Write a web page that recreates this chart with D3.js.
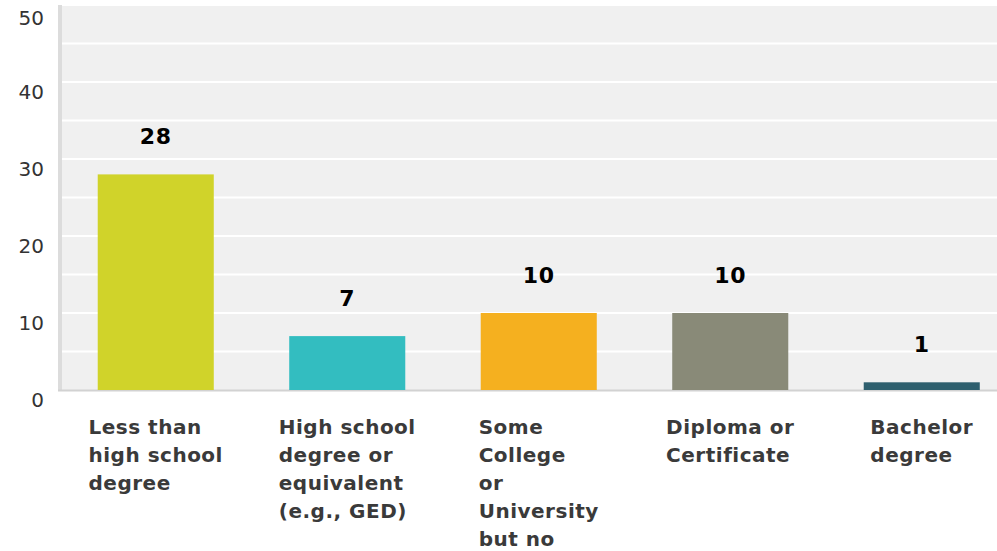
<!DOCTYPE html>
<html>
<head>
<meta charset="utf-8">
<script src="https://d3js.org/d3.v7.min.js"></script>
<style>
  html, body { margin: 0; padding: 0; background: #fff; overflow: hidden; }
  svg { display: block; font-family: "DejaVu Sans", sans-serif; }
  .tick-label { font-size: 20px; fill: #333; }
  .value-label { font-size: 22px; font-weight: bold; fill: #000; letter-spacing: 0.8px; }
  .cat-label { font-size: 20px; font-weight: bold; fill: #3a3a3a; letter-spacing: 0.5px; }
</style>
</head>
<body>
<svg></svg>
<script>
// data
const categories = ["less", "hs", "college", "diploma", "bachelor"]
const values = [28, 7, 10, 10, 1]
const labelLines = [
  ["Less than", "high school", "degree"],
  ["High school", "degree or", "equivalent", "(e.g., GED)"],
  ["Some", "College", "or", "University", "but no", "degree"],
  ["Diploma or", "Certificate"],
  ["Bachelor", "degree"]
]
const colors = ["#d0d32a", "#33bdc0", "#f5b01f", "#898a78", "#2e5f6e"]
const yTicks = [0, 10, 20, 30, 40, 50]
const gridTicks = [5, 10, 15, 20, 25, 30, 35, 40, 45, 50]

let width = 997, height = 551
let plotLeft = 62, plotTop = 5, plotBottom = 390

let svg = d3.select("svg")
  .attr("width", width)
  .attr("height", height)

let x = d3.scaleBand()
  .domain(categories)
  .range([60, 1017.5])
  .paddingInner(0.394)
  .paddingOuter(0.197)

let y = d3.scaleLinear()
  .domain([0, 50])
  .range([plotBottom, plotTop])

// plot background
svg.append("rect")
  .attr("x", plotLeft)
  .attr("y", plotTop)
  .attr("width", width - plotLeft)
  .attr("height", plotBottom - plotTop)
  .attr("fill", "#f0f0f0")

// gridlines
svg.append("g")
  .selectAll("line")
  .data(gridTicks)
  .enter()
  .append("line")
  .attr("x1", plotLeft)
  .attr("x2", width)
  .attr("y1", d => y(d))
  .attr("y2", d => y(d))
  .attr("stroke", "#fff")
  .attr("stroke-width", 2)

// left axis bar
svg.append("rect")
  .attr("x", 58)
  .attr("y", plotTop)
  .attr("width", 4)
  .attr("height", plotBottom - plotTop + 1)
  .attr("fill", "#dcdcdc")

// bottom axis line
svg.append("line")
  .attr("x1", 58)
  .attr("x2", width)
  .attr("y1", plotBottom + 0.5)
  .attr("y2", plotBottom + 0.5)
  .attr("stroke", "#d2d2d2")
  .attr("stroke-width", 2)

// y tick labels
svg.append("g")
  .selectAll("text")
  .data(yTicks)
  .enter()
  .append("text")
  .attr("class", "tick-label")
  .attr("x", 44)
  .attr("y", d => Math.max(y(d) + 17, 25))
  .attr("text-anchor", "end")
  .text(d => d)

// bars
svg.append("g")
  .selectAll("rect")
  .data(values)
  .enter()
  .append("rect")
  .attr("x", (d, i) => x(categories[i]))
  .attr("y", d => y(d))
  .attr("width", x.bandwidth())
  .attr("height", d => plotBottom - y(d))
  .attr("fill", (d, i) => colors[i])

// value labels
svg.append("g")
  .selectAll("text")
  .data(values)
  .enter()
  .append("text")
  .attr("class", "value-label")
  .attr("x", (d, i) => x(categories[i]) + x.bandwidth() / 2)
  .attr("y", d => y(d) - 30)
  .attr("text-anchor", "middle")
  .text(d => d)

// category labels (left aligned block, centred under bar)
let catG = svg.append("g")
labelLines.forEach((lines, i) => {
  let g = catG.append("g")
  let texts = g.selectAll("text")
    .data(lines)
    .enter()
    .append("text")
    .attr("class", "cat-label")
    .attr("y", (d, j) => 434 + j * 28)
    .text(d => d)
  let maxW = d3.max(texts.nodes(), n => n.getComputedTextLength())
  let cx = x(categories[i]) + x.bandwidth() / 2
  g.attr("transform", "translate(" + (cx - maxW / 2) + ",0)")
})
</script>
</body>
</html>
